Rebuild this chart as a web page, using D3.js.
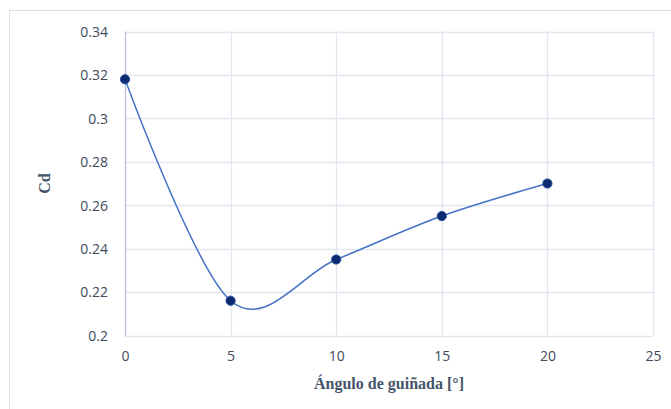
<!DOCTYPE html>
<html>
<head>
<meta charset="utf-8">
<script src="https://cdn.jsdelivr.net/npm/d3@7/dist/d3.min.js"></script>
<style>
  html, body { margin: 0; padding: 0; background: #ffffff; }
  svg { display: block; }
</style>
</head>
<body>
<svg id="chart" width="671" height="409"></svg>
<script>
// Drag coefficient versus yaw angle
const angles = [0, 5, 10, 15, 20];
const cdValues = [0.318, 0.216, 0.235, 0.255, 0.270];
const xTicks = [0, 5, 10, 15, 20, 25];
const yTicks = [0.2, 0.22, 0.24, 0.26, 0.28, 0.3, 0.32, 0.34];
const yTickLabels = ["0.2", "0.22", "0.24", "0.26", "0.28", "0.3", "0.32", "0.34"];

const svg = d3.select("#chart");
const W = 671, H = 409;

// chart frame
svg.append("rect")
  .attr("x", 9.5).attr("y", 10.5)
  .attr("width", W + 10).attr("height", H + 10)
  .attr("fill", "#ffffff")
  .attr("stroke", "#d9dee8").attr("stroke-width", 1);

const x = d3.scaleLinear().domain([0, 25]).range([125, 653]);
const y = d3.scaleLinear().domain([0.2, 0.34]).range([335.5, 31.5]);

const grid = svg.append("g");
// horizontal gridlines
grid.selectAll("line.h").data(yTicks).enter().append("line")
  .attr("x1", x(0)).attr("x2", x(25))
  .attr("y1", d => Math.round(y(d)) + 0.5).attr("y2", d => Math.round(y(d)) + 0.5)
  .attr("stroke", "#e3e6ee").attr("stroke-width", 1.3);
// vertical gridlines
grid.selectAll("line.v").data(xTicks.slice(1)).enter().append("line")
  .attr("x1", d => Math.round(x(d)) + 0.5).attr("x2", d => Math.round(x(d)) + 0.5)
  .attr("y1", y(0.34)).attr("y2", y(0.2))
  .attr("stroke", "#e3e6ee").attr("stroke-width", 1.3);
// vertical axis line
svg.append("line")
  .attr("x1", x(0) + 0.5).attr("x2", x(0) + 0.5)
  .attr("y1", y(0.34)).attr("y2", y(0.2) + 0.5)
  .attr("stroke", "#b4bdd3").attr("stroke-width", 1.2);

// axes via d3 axis generators, lines hidden
const yAxis = svg.append("g")
  .attr("transform", `translate(${x(0) - 17},0)`)
  .call(d3.axisLeft(y).tickValues(yTicks).tickFormat((d, i) => yTickLabels[i]).tickSize(0).tickPadding(0));
yAxis.select(".domain").remove();
yAxis.selectAll("text")
  .attr("font-family", "'Open Sans', sans-serif")
  .attr("font-size", 14).attr("fill", "#404a5a").attr("dy", "0.35em");

const xAxis = svg.append("g")
  .attr("transform", `translate(0,${y(0.2) + 15})`)
  .call(d3.axisBottom(x).tickValues(xTicks).tickSize(0).tickPadding(0));
xAxis.select(".domain").remove();
xAxis.selectAll("text")
  .attr("font-family", "'Open Sans', sans-serif")
  .attr("font-size", 14).attr("fill", "#404a5a").attr("dy", "0.75em");

// axis titles
svg.append("text")
  .attr("x", 389).attr("y", 389)
  .attr("text-anchor", "middle")
  .attr("font-family", "'Liberation Serif', 'Times New Roman', serif")
  .attr("font-weight", "bold").attr("font-size", 16)
  .attr("fill", "#44546a")
  .text("Ángulo de guiñada [°]");

svg.append("text")
  .attr("transform", `translate(50,${(y(0.34) + y(0.2)) / 2}) rotate(-90)`)
  .attr("text-anchor", "middle")
  .attr("font-family", "'Liberation Serif', 'Times New Roman', serif")
  .attr("font-weight", "bold").attr("font-size", 16)
  .attr("fill", "#44546a")
  .text("Cd");

// smoothed series line
const pts = angles.map((a, i) => [a, cdValues[i]]);
const line = d3.line()
  .x(d => x(d[0])).y(d => y(d[1]))
  .curve(d3.curveCardinal.tension(0));
svg.append("path")
  .datum(pts)
  .attr("d", line)
  .attr("fill", "none")
  .attr("stroke", "#4472c4").attr("stroke-width", 1.5);

// markers
svg.selectAll("circle.pt").data(pts).enter().append("circle")
  .attr("cx", d => x(d[0])).attr("cy", d => y(d[1]))
  .attr("r", 4.6)
  .attr("fill", "#0b2a6f")
  .attr("stroke", "#254b9a").attr("stroke-width", 1);
</script>
</body>
</html>
